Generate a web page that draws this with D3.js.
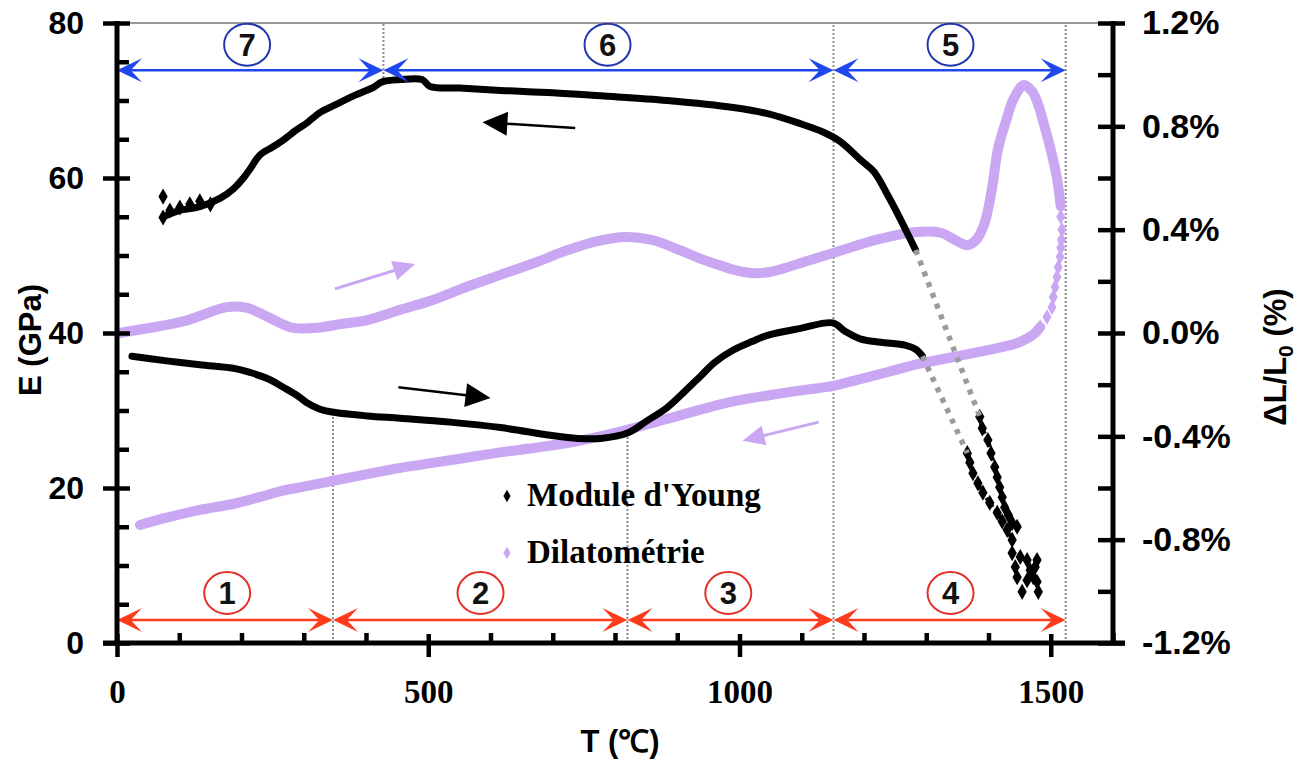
<!DOCTYPE html>
<html><head><meta charset="utf-8">
<script src="https://cdn.jsdelivr.net/npm/d3@7"></script>
<style>
body{margin:0;background:#fff}
svg{display:block;background:#fff}
</style></head><body>
<svg id="c" width="1299" height="765"></svg>
<script>
// ---------- DATA ----------
// Young's modulus (GPa) vs T (°C)
const youngCooling = [[80,55.2],[100,55.8],[133,56.3],[166,57.4],[187,58.6],[205,60.2],[214,61.2],[230,63.0],[250,64.0],[267,64.9],[290,66.3],[305,67.1],[327,68.5],[347,69.3],[380,70.6],[412,71.7],[426,72.4],[455,72.7],[490,72.7],[503,71.8],[550,71.6],[616,71.3],[700,71.0],[777,70.6],[884,70.0],[990,69.1],[1045,68.3],[1098,67.0],[1135,65.9],[1162,64.7],[1195,62.3],[1216,60.8],[1238,57.8],[1259,54.6],[1275,52.0],[1283,50.7]];
const youngCoolingStart = [[74,57.6],[74,54.9],[85,55.8],[101,56.2],[117,56.6],[133,57.0],[150,56.6]];
const youngHeating = [[24,37.0],[80,36.4],[133,35.9],[190,35.4],[214,34.9],[245,34.0],[267,33.0],[290,31.9],[305,31.0],[325,30.2],[345,29.8],[402,29.3],[455,29.0],[535,28.5],[616,27.8],[696,26.8],[740,26.4],[777,26.4],[820,27.1],[850,28.6],[884,30.4],[910,32.3],[937,34.4],[960,36.2],[990,37.8],[1020,38.9],[1045,39.7],[1098,40.6],[1150,41.3],[1170,40.2],[1195,39.2],[1227,38.8],[1267,38.4],[1283,37.9],[1294,37.0]];
const youngHeatingHigh = [[1366,24.5],[1370,23.3],[1375,21.9],[1383,20.6],[1391,19.4],[1402,18.1],[1414,16.8],[1422,15.7],[1430,14.6],[1438,13.3]];
const youngCoolingHigh = [[1386,29.2],[1390,27.7],[1399,26.2],[1404,24.5],[1410,22.7],[1414,21.4],[1418,20.1],[1422,18.8],[1426,17.5],[1432,16.5],[1438,15.5],[1446,15.0]];
const youngScatter = [[1438,11.6],[1451,11.1],[1462,10.7],[1478,10.7],[1443,9.8],[1467,9.4],[1475,9.8],[1446,8.5],[1462,8.1],[1472,8.5],[1478,7.9],[1454,6.6],[1480,6.6]];
// extrapolation (grey dotted) segments
const extrapCooling = [[1283,50.7],[1386,29.2]];
const extrapHeating = [[1294,37.0],[1366,24.5]];

// Dilatometry ΔL/L0 (%) vs T (°C)
const dilHeating = [[5,0.0],[16,0.005],[106,0.045],[177,0.10],[209,0.097],[240,0.065],[265,0.035],[283,0.02],[322,0.02],[360,0.035],[402,0.05],[455,0.09],[510,0.13],[563,0.18],[616,0.225],[669,0.27],[723,0.32],[770,0.355],[817,0.372],[860,0.36],[905,0.32],[940,0.285],[965,0.265],[990,0.245],[1018,0.232],[1045,0.235],[1071,0.25],[1110,0.28],[1151,0.31],[1190,0.34],[1227,0.365],[1280,0.39],[1323,0.388],[1350,0.355],[1366,0.34],[1380,0.36],[1393,0.42],[1405,0.55],[1415,0.71],[1428,0.82],[1441,0.91],[1457,0.96],[1470,0.935],[1479,0.89],[1490,0.80],[1500,0.71],[1510,0.60],[1516,0.49]];
const dilSparse = [[1516,0.45],[1518,0.40],[1517,0.36],[1516,0.33],[1515,0.295],[1512,0.255],[1510,0.217],[1507,0.178],[1504,0.139],[1502,0.10],[1494,0.062],[1483,0.023]];
const dilCooling = [[37,-0.743],[80,-0.715],[133,-0.685],[190,-0.66],[241,-0.627],[267,-0.61],[300,-0.595],[347,-0.572],[400,-0.547],[455,-0.522],[510,-0.502],[563,-0.482],[616,-0.462],[669,-0.445],[723,-0.426],[780,-0.398],[830,-0.368],[880,-0.335],[940,-0.295],[990,-0.265],[1050,-0.24],[1100,-0.222],[1151,-0.205],[1183,-0.185],[1240,-0.15],[1291,-0.118],[1350,-0.09],[1399,-0.066],[1430,-0.05],[1450,-0.035],[1463,-0.02],[1475,0.0],[1483,0.023]];

// axis ticks
const tTicks = [0,500,1000,1500];
const tMinor = [100,200,300,400,600,700,800,900,1100,1200,1300,1400,1600];
const eTicks = [0,20,40,60,80];
const eMinor = [5,10,15,25,30,35,45,50,55,65,70,75];
const dTicks = [-1.2,-0.8,-0.4,0.0,0.4,0.8,1.2];
const dMinor = [-1.0,-0.6,-0.2,0.2,0.6,1.0];

// zone boundaries (°C) and annotations
const topBounds = [0,428,1151,1524];
const bottomBounds = [0,347,820,1151,1524];
const topLabels = ["7","6","5"];
const bottomLabels = ["1","2","3","4"];
const topLabelT = [209,788,1339];
const bottomLabelT = [177,584,982,1339];
const dottedLines = [[347,0,29.9],[428,72.4,80],[820,0,27.1],[1151,0,80],[1524,0,80]];
const blackArrows = [[[736,66.45],[587,67.2]],[[452,33.0],[600,31.6]]];
const purpleArrows = [[[350,45.7],[479,48.9]],[[1127,28.5],[1005,26.1]]];

// ---------- DRAW ----------
const svg = d3.select("#c");
const x = d3.scaleLinear().domain([0,1600]).range([117,1113]);
const yE = d3.scaleLinear().domain([0,80]).range([643,23]);
const yD = d3.scaleLinear().domain([-1.2,1.2]).range([643,23]);
const SANS = "'Liberation Sans', Arial, Helvetica, sans-serif";
const SERIF = "'Liberation Serif', 'Times New Roman', serif";
const PURPLE = "#c9a7f2";
const BLUE = "#1f47ee", BLUEC = "#2234b0", RED = "#ff3b1e", REDC = "#e33128";

// top grey frame line
svg.append("line").attr("x1",x(0)).attr("x2",x(1600)).attr("y1",yE(80)).attr("y2",yE(80))
  .attr("stroke","#9a9a9a").attr("stroke-width",2);

// dotted vertical zone lines
svg.append("g").selectAll("line").data(dottedLines).join("line")
  .attr("x1",d=>x(d[0])).attr("x2",d=>x(d[0]))
  .attr("y1",d=>yE(d[1])).attr("y2",d=>yE(d[2]))
  .attr("stroke","#8c8c8c").attr("stroke-width",2).attr("stroke-dasharray","2 2");

const lineE = d3.line().x(d=>x(d[0])).y(d=>yE(d[1])).curve(d3.curveCatmullRom.alpha(0.5));
const lineD = d3.line().x(d=>x(d[0])).y(d=>yD(d[1])).curve(d3.curveCatmullRom.alpha(0.5));
const lineStraightE = d3.line().x(d=>x(d[0])).y(d=>yE(d[1]));
const diamond = s => d3.symbol(d3.symbolDiamond).size(s)();

// dilatometry
[dilHeating, dilCooling].forEach(s=>{
  svg.append("path").attr("d",lineD(s)).attr("fill","none").attr("stroke",PURPLE)
    .attr("stroke-width",10).attr("stroke-linecap","round").attr("stroke-linejoin","round");
});
svg.append("g").selectAll("path").data(dilSparse).join("path")
  .attr("d",diamond(70)).attr("fill",PURPLE)
  .attr("transform",d=>`translate(${x(d[0])},${yD(d[1])})`);

// Young's modulus
[youngCooling, youngHeating].forEach(s=>{
  svg.append("path").attr("d",lineE(s)).attr("fill","none").attr("stroke","#000")
    .attr("stroke-width",7).attr("stroke-linecap","round").attr("stroke-linejoin","round");
});
svg.append("g").selectAll("path").data([...youngCoolingStart,...youngHeatingHigh,...youngCoolingHigh,...youngScatter]).join("path")
  .attr("d",diamond(75)).attr("fill","#000")
  .attr("transform",d=>`translate(${x(d[0])},${yE(d[1])})`);
[youngHeatingHigh, youngCoolingHigh].forEach(s=>{
  svg.append("path").attr("d",lineE(s)).attr("fill","none").attr("stroke","#000")
    .attr("stroke-width",4).attr("stroke-dasharray","4 3");
});

// grey extrapolation
[extrapCooling, extrapHeating].forEach(s=>{
  svg.append("path").attr("d",lineStraightE(s)).attr("fill","none").attr("stroke","#9b9b9b")
    .attr("stroke-width",5.5).attr("stroke-dasharray","5 6.5");
});

// arrowheads
function concaveHead(tx,ty,ux,uy,L,W){
  const px=-uy, py=ux;
  return `M${tx},${ty}L${tx+ux*L+px*W},${ty+uy*L+py*W}L${tx+ux*L*0.55},${ty+uy*L*0.55}L${tx+ux*L-px*W},${ty+uy*L-py*W}Z`;
}
function triHead(tx,ty,ux,uy,L,W){
  const px=-uy, py=ux;
  return `M${tx},${ty}L${tx+ux*L+px*W},${ty+uy*L+py*W}L${tx+ux*L-px*W},${ty+uy*L-py*W}Z`;
}
function spans(bounds, yVal, col){
  const g = svg.append("g");
  const y = yE(yVal);
  for(let i=0;i<bounds.length-1;i++){
    const a=x(bounds[i]), b=x(bounds[i+1]);
    g.append("line").attr("x1",a+10).attr("x2",b-10).attr("y1",y).attr("y2",y)
      .attr("stroke",col).attr("stroke-width",2.5);
    g.append("path").attr("d",concaveHead(a,y,1,0,25,12)).attr("fill",col);
    g.append("path").attr("d",concaveHead(b,y,-1,0,25,12)).attr("fill",col);
  }
}
spans(topBounds, 73.9, BLUE);
spans(bottomBounds, 2.97, RED);

function circles(labels, ts, yVal, col){
  const g = svg.append("g").selectAll("g").data(labels.map((l,i)=>({l,t:ts[i]}))).join("g")
    .attr("transform",d=>`translate(${x(d.t)},${yE(yVal)})`);
  g.append("ellipse").attr("rx",23).attr("ry",21).attr("fill","#fff").attr("stroke",col).attr("stroke-width",2);
  g.append("text").text(d=>d.l).attr("text-anchor","middle").attr("y",11)
    .attr("font-family",SANS).attr("font-weight","bold").attr("font-size",31).attr("fill","#111");
}
circles(topLabels, topLabelT, 77.2, BLUEC);
circles(bottomLabels, bottomLabelT, 6.45, REDC);

function annArrow(a, col, w, L, W){
  const x1=x(a[0][0]), y1=yE(a[0][1]), x2=x(a[1][0]), y2=yE(a[1][1]);
  const len=Math.hypot(x1-x2,y1-y2), ux=(x1-x2)/len, uy=(y1-y2)/len;
  svg.append("line").attr("x1",x1).attr("y1",y1).attr("x2",x2+ux*L*0.8).attr("y2",y2+uy*L*0.8)
    .attr("stroke",col).attr("stroke-width",w);
  svg.append("path").attr("d",triHead(x2,y2,ux,uy,L,W)).attr("fill",col);
}
blackArrows.forEach(a=>annArrow(a,"#000",2.5,25,12));
purpleArrows.forEach(a=>annArrow(a,PURPLE,3,22,10));

// ---------- AXES ----------
function styleAxis(g){ g.select(".domain").remove(); g.selectAll("line").attr("stroke","#000").attr("stroke-width",4.5); }
// left
const gl = svg.append("g").attr("transform",`translate(${x(0)},0)`)
  .call(d3.axisLeft(yE).tickValues(eTicks).tickSize(14).tickPadding(19).tickFormat(d3.format("d")));
styleAxis(gl); gl.selectAll(".tick line").attr("x1",13);
gl.selectAll("text").attr("font-family",SANS).attr("font-weight","bold").attr("font-size",32).attr("fill","#000");
const glm = svg.append("g").attr("transform",`translate(${x(0)},0)`)
  .call(d3.axisLeft(yE).tickValues(eMinor).tickSize(-12).tickFormat(""));
styleAxis(glm);
// bottom
const gb = svg.append("g").attr("transform",`translate(0,${yE(0)})`)
  .call(d3.axisBottom(x).tickValues(tTicks).tickSize(14).tickFormat(d3.format("d")));
styleAxis(gb); gb.selectAll(".tick line").attr("y1",-9);
gb.selectAll("text").attr("y",60).attr("dy",0).attr("font-family",SERIF).attr("font-weight","bold").attr("font-size",33).attr("fill","#000");
const gbm = svg.append("g").attr("transform",`translate(0,${yE(0)})`)
  .call(d3.axisBottom(x).tickValues(tMinor).tickSize(-10).tickFormat(""));
styleAxis(gbm);
// right
const pctFmt = d => d3.format(".1f")(d).replace("\u2212","-") + "%";
const gr = svg.append("g").attr("transform",`translate(${x(1600)},0)`)
  .call(d3.axisRight(yD).tickValues(dTicks).tickSize(12).tickPadding(17).tickFormat(pctFmt));
styleAxis(gr); gr.selectAll(".tick line").attr("x1",-15);
gr.selectAll("text").attr("font-family",SANS).attr("font-weight","bold").attr("font-size",34).attr("fill","#000");
const grm = svg.append("g").attr("transform",`translate(${x(1600)},0)`)
  .call(d3.axisRight(yD).tickValues(dMinor).tickSize(-15).tickFormat(""));
styleAxis(grm);
// axis lines
svg.append("line").attr("x1",x(0)).attr("x2",x(0)).attr("y1",yE(80)-2).attr("y2",yE(0)+2).attr("stroke","#000").attr("stroke-width",5);
svg.append("line").attr("x1",x(1600)).attr("x2",x(1600)).attr("y1",yE(80)-2).attr("y2",yE(0)+2).attr("stroke","#000").attr("stroke-width",5);
svg.append("line").attr("x1",x(0)-14).attr("x2",x(1600)+12).attr("y1",yE(0)).attr("y2",yE(0)).attr("stroke","#000").attr("stroke-width",5);

// axis titles
svg.append("text").text("E (GPa)").attr("transform","translate(41,340) rotate(-90)")
  .attr("text-anchor","middle").attr("font-family",SANS).attr("font-weight","bold").attr("font-size",31);
svg.append("text").text("T (℃)").attr("x",620).attr("y",752)
  .attr("text-anchor","middle").attr("font-family",SANS).attr("font-weight","bold").attr("font-size",31);
const rt = svg.append("text").attr("transform","translate(1286,357) rotate(-90)")
  .attr("text-anchor","middle").attr("font-family",SANS).attr("font-weight","bold").attr("font-size",31);
rt.append("tspan").text("ΔL/L");
rt.append("tspan").text("0").attr("font-size",21).attr("dy",7);
rt.append("tspan").text(" (%)").attr("dy",-7);

// legend
const legend = [["Module d'Young","#000",506],["Dilatométrie",PURPLE,563]];
const lg = svg.append("g").selectAll("g").data(legend).join("g");
lg.append("path").attr("d",diamond(45)).attr("fill",d=>d[1]).attr("transform",d=>`translate(507,${d[2]-10})`);
lg.append("text").text(d=>d[0]).attr("x",527).attr("y",d=>d[2])
  .attr("font-family",SERIF).attr("font-weight","bold").attr("font-size",33).attr("fill","#000");
</script>
</body></html>
